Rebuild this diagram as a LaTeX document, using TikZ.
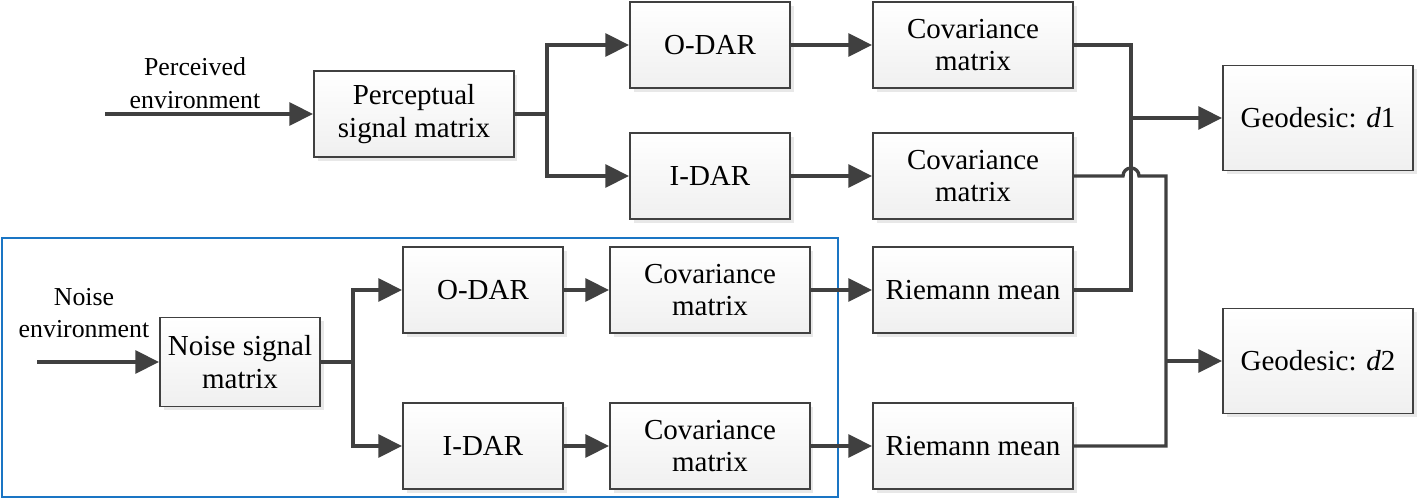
\documentclass[tikz,border=0pt]{standalone}
\usepackage{fontspec}
\setmainfont{Liberation Serif}
\usetikzlibrary{arrows.meta, shadows, positioning}

\definecolor{linegray}{HTML}{404040}
\definecolor{frameblue}{HTML}{1A75C4}

\begin{document}
\begin{tikzpicture}[x=0.02cm, y=-0.02cm, >={Triangle[length=13.5pt,width=13pt]},
	font=\fontsize{16.5}{18.5}\selectfont]
	\tikzstyle{block} = [draw=linegray, line width=1.1pt, top color=white, bottom color=gray!12,
		drop shadow={shadow xshift=2pt, shadow yshift=-2pt, fill=gray!30, opacity=0.6},
		minimum width=4cm, minimum height=1.72cm, inner sep=0pt, align=center]
	\tikzstyle{dar} = [block, minimum width=3.2cm]
	\tikzstyle{link} = [draw=linegray, line width=1.9pt]
	\tikzstyle{inlabel} = [align=center, font=\fontsize{14.7}{18.6}\selectfont]

	\useasboundingbox (0,0) rectangle (1418,503);

	% upper branch
	\node[block] (psm) at (414,114) {Perceptual\\signal matrix};
	\node[dar] (odar1) at (710,45) {O-DAR};
	\node[dar] (idar1) at (710,176) {I-DAR};
	\node[block] (cov1) at (973,45) {Covariance\\matrix};
	\node[block] (cov2) at (973,176) {Covariance\\matrix};
	\node[block] (rm1) at (973,290) {Riemann mean};
	\node[block] (rm2) at (973,446) {Riemann mean};
	\node[block, minimum width=3.8cm, minimum height=2.1cm] (geo1) at (1318,118) {Geodesic: \textit{d}1};
	\node[block, minimum width=3.8cm, minimum height=2.1cm] (geo2) at (1318,361) {Geodesic: \textit{d}2};

	% noise branch
	\draw[frameblue, line width=1.3pt] (2,238) rectangle (838,497);
	\node[block, minimum width=3.2cm, minimum height=1.78cm] (nsm) at (240,362) {Noise signal\\matrix};
	\node[dar] (odar2) at (483,290) {O-DAR};
	\node[dar] (idar2) at (483,446) {I-DAR};
	\node[block] (cov3) at (710,290) {Covariance\\matrix};
	\node[block] (cov4) at (710,446) {Covariance\\matrix};

	\node[inlabel] (pe) at (195,83) {Perceived\\environment};
	\node[inlabel] (ne) at (84,313) {Noise\\environment};
	\coordinate (pin) at (105,114);
	\coordinate (nin) at (37,362);

	\draw[link, ->] (pin) -- (psm);
	\draw[link, ->] (nin) -- (nsm);
	\draw[link, ->] (psm.east) -- (547,114) |- (odar1);
	\draw[link, ->] (547,114) |- (idar1);
	\draw[link, ->] (odar1) -- (cov1);
	\draw[link, ->] (idar1) -- (cov2);
	\draw[link, ->] (nsm.east) -- (353,362) |- (odar2);
	\draw[link, ->] (353,362) |- (idar2);
	\draw[link, ->] (odar2) -- (cov3);
	\draw[link, ->] (idar2) -- (cov4);
	\draw[link, ->] (cov3) -- (rm1);
	\draw[link, ->] (cov4) -- (rm2);

	% joins to the geodesic blocks
	\draw[link] (cov1.east) -| (1131,290) -- (rm1.east);
	\draw[link, ->] (1131,118) -- (geo1);
	\draw[link] (cov2.east) -- (1123,176) arc[start angle=180, end angle=0, radius=0.16cm]
		-| (1166,446) -- (rm2.east);
	\draw[link, ->] (1166,361) -- (geo2);
\end{tikzpicture}
\end{document}
